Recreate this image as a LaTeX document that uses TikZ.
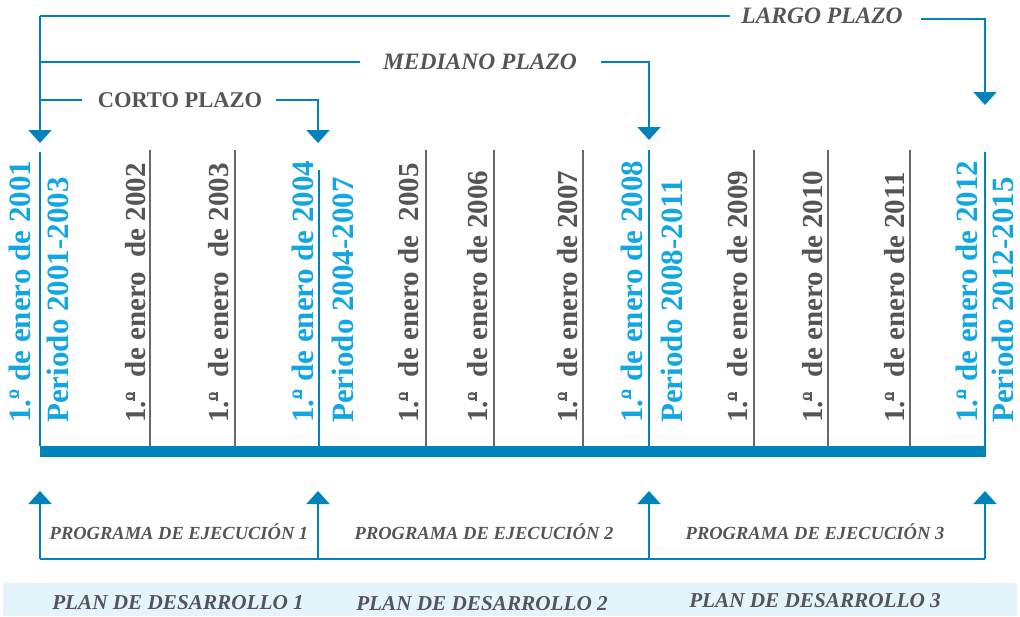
\documentclass[tikz,border=0pt]{standalone}
\usepackage{fontspec}
\setmainfont{Liberation Serif}
\usetikzlibrary{arrows.meta}
\definecolor{lineblue}{RGB}{0,131,186}
\definecolor{textblue}{RGB}{18,166,226}
\definecolor{txtgray}{RGB}{85,85,88}
\definecolor{divgray}{RGB}{105,105,105}
\definecolor{bandblue}{RGB}{227,244,251}
\newcommand{\ordmu}{\leavevmode\rlap{\kern0.01em\rule[0.36em]{0.31em}{0.055em}}º}
\begin{document}
\begin{tikzpicture}[x=1pt,y=-1pt,
  conn/.style={draw=lineblue,line width=2pt},
  arr/.style={conn,-{Triangle[width=23pt,length=13pt]}},
  bluediv/.style={draw=lineblue,line width=2pt},
  graydiv/.style={draw=divgray,line width=2pt},
  datebig/.style={rotate=90,anchor=base west,inner sep=0pt,text=textblue,
     font=\fontsize{31}{31}\selectfont\bfseries},
  dategray/.style={rotate=90,anchor=base west,inner sep=0pt,text=txtgray,
     font=\fontsize{29}{29}\selectfont\bfseries},
  termlabel/.style={inner sep=0pt,text=txtgray,font=\fontsize{23.5}{24}\selectfont\bfseries\itshape},
  termup/.style={inner sep=0pt,text=txtgray,font=\fontsize{22.5}{24}\selectfont\bfseries},
  proglabel/.style={inner sep=0pt,text=txtgray,font=\fontsize{18.5}{20}\selectfont\bfseries\itshape},
  planlabel/.style={inner sep=0pt,text=txtgray,font=\fontsize{21.2}{22}\selectfont\bfseries\itshape}]
\useasboundingbox (0,0) rectangle (1020,616);

% ---- light band ----
\fill[bandblue] (3,583) rectangle (1017,616);

% ---- dividers ----
\draw[bluediv] (40,152) -- (40,446);
\draw[bluediv] (319,170) -- (319,446);
\draw[bluediv] (649,150) -- (649,446);
\draw[bluediv] (985,152) -- (985,446);
\foreach \xx in {150,235,426,494,583,754,828,910}
  \draw[graydiv] (\xx,150) -- (\xx,446);
\fill[lineblue] (40,446) rectangle (986,457);

% ---- date labels ----
\node[datebig]  (d2001) at (30.5,423) {1.\ordmu{} de enero de 2001};
\node[datebig]  (p2001) at (68,423) {Periodo 2001-2003};
\node[dategray] (d2002) at (145,423) {1.\ordmu\ \ de enero\ \ de 2002};
\node[dategray] (d2003) at (228,423) {1.\ordmu\ \ de enero\ \ de 2003};
\node[datebig]  (d2004) at (313,423) {1.\ordmu{} de enero de 2004};
\node[datebig]  (p2004) at (353,423) {Periodo 2004-2007};
\node[dategray] (d2005) at (418,423) {1.\ordmu\ \ de enero de\ \ 2005};
\node[dategray] (d2006) at (487,423) {1.\ordmu\ \ de enero de 2006};
\node[dategray] (d2007) at (577,423) {1.\ordmu\ \ de enero de 2007};
\node[datebig]  (d2008) at (642,423) {1.\ordmu{} de enero de 2008};
\node[datebig]  (p2008) at (682,423) {Periodo 2008-2011};
\node[dategray] (d2009) at (747,423) {1.\ordmu\ \ de enero de 2009};
\node[dategray] (d2010) at (822,423) {1.\ordmu\ \ de enero de 2010};
\node[dategray] (d2011) at (904,423) {1.\ordmu\ \ de enero de 2011};
\node[datebig]  (d2012) at (977,423) {1.\ordmu{} de enero de 2012};
\node[datebig]  (p2012) at (1013,423) {Periodo 2012-2015};

% ---- top brackets ----
\node[termlabel] (largo)   at (822,16) {LARGO PLAZO};
\node[termlabel] (mediano) at (480,62) {MEDIANO PLAZO};
\node[termup]    (corto)   at (180,100) {CORTO PLAZO};

\coordinate (tl) at (40,16);
\coordinate (ml) at (40,62);
\coordinate (cl) at (40,100);
\coordinate (a2001) at (40,143);
\coordinate (lr) at (985,19);
\coordinate (a2012) at (985,105);
\coordinate (mr) at (649,62);
\coordinate (a2008) at (649,140);
\coordinate (cr) at (318,100);
\coordinate (a2004) at (318,143);

\draw[arr] (tl) -- (a2001);
\draw[conn] (tl) -- ([xshift=-11pt]largo.west |- tl);
\draw[arr] ([xshift=18pt]largo.east |- lr) -- (lr) -- (a2012);
\draw[conn] (ml) -- ([xshift=-23pt]mediano.west |- ml);
\draw[arr] ([xshift=24pt]mediano.east |- mr) -- (mr) -- (a2008);
\draw[conn] (cl) -- ([xshift=-16pt]corto.west |- cl);
\draw[arr] ([xshift=14pt]corto.east |- cr) -- (cr) -- (a2004);

% ---- bottom programme brackets ----
\coordinate (q0) at (40,559);
\coordinate (q1) at (318,559);
\coordinate (q2) at (649,559);
\coordinate (q3) at (985,559);
\coordinate (u0) at (40,491);
\coordinate (u1) at (318,491);
\coordinate (u2) at (649,491);
\coordinate (u3) at (985,491);
\draw[conn] (q0) -- (q3);
\draw[arr] (q0) -- (u0);
\draw[arr] (q1) -- (u1);
\draw[arr] (q2) -- (u2);
\draw[arr] (q3) -- (u3);

\node[proglabel] (prog1) at (179,532) {PROGRAMA DE EJECUCIÓN 1};
\node[proglabel] (prog2) at (484,532) {PROGRAMA DE EJECUCIÓN 2};
\node[proglabel] (prog3) at (815,532) {PROGRAMA DE EJECUCIÓN 3};

\node[planlabel] (plan1) at (178,603) {PLAN DE DESARROLLO 1};
\node[planlabel] (plan2) at (482,604) {PLAN DE DESARROLLO 2};
\node[planlabel] (plan3) at (815,601) {PLAN DE DESARROLLO 3};
\end{tikzpicture}
\end{document}
